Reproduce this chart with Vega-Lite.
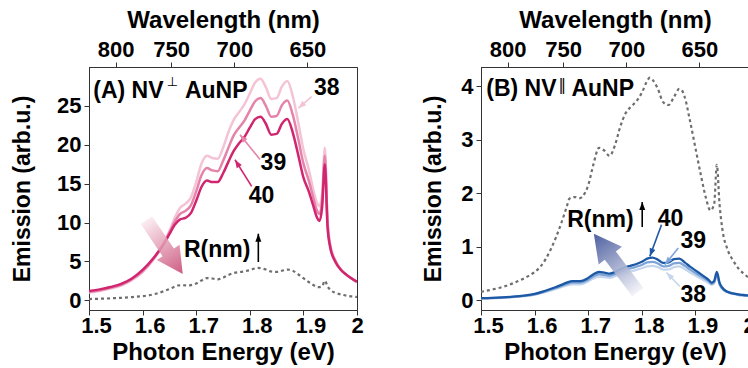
{
  "$schema": "https://vega.github.io/schema/vega-lite/v6.json",
  "background": "white",
  "padding": {"left": 11, "top": 7, "right": 0, "bottom": 0},
  "spacing": 58,
  "resolve": {"scale": {"color": "independent"}},
  "datasets": {
    "curves": [
      {"E":1.50,"p38":1.0,"p39":1.1,"p40":1.2,"b38":0.035,"b39":0.038,"b40":0.04},
      {"E":1.52,"p38":1.2,"p39":1.3,"p40":1.4,"b38":0.04,"b39":0.043,"b40":0.045},
      {"E":1.54,"p38":1.5,"p39":1.6,"p40":1.7,"b38":0.048,"b39":0.052,"b40":0.055},
      {"E":1.56,"p38":1.9,"p39":2.0,"p40":2.1,"b38":0.06,"b39":0.066,"b40":0.07},
      {"E":1.58,"p38":2.6,"p39":2.7,"p40":2.8,"b38":0.078,"b39":0.085,"b40":0.09},
      {"E":1.60,"p38":3.6,"p39":3.75,"p40":3.9,"b38":0.104,"b39":0.113,"b40":0.12},
      {"E":1.62,"p38":5.2,"p39":5.3,"p40":5.4,"b38":0.155,"b39":0.168,"b40":0.18},
      {"E":1.64,"p38":7.4,"p39":7.35,"p40":7.3,"b38":0.213,"b39":0.232,"b40":0.25},
      {"E":1.65,"p38":8.9,"p39":8.7,"p40":8.5,"b38":0.248,"b39":0.27,"b40":0.29},
      {"E":1.66,"p38":10.6,"p39":10.1,"p40":9.7,"b38":0.28,"b39":0.305,"b40":0.33},
      {"E":1.67,"p38":11.9,"p39":11.1,"p40":10.4,"b38":0.30,"b39":0.33,"b40":0.36},
      {"E":1.68,"p38":12.4,"p39":11.5,"p40":10.6,"b38":0.30,"b39":0.33,"b40":0.36},
      {"E":1.69,"p38":13.2,"p39":12.2,"p40":11.2,"b38":0.31,"b39":0.34,"b40":0.37},
      {"E":1.70,"p38":15.2,"p39":14.0,"p40":12.8,"b38":0.355,"b39":0.385,"b40":0.42},
      {"E":1.71,"p38":17.6,"p39":16.1,"p40":14.6,"b38":0.41,"b39":0.45,"b40":0.49},
      {"E":1.72,"p38":18.6,"p39":17.0,"p40":15.4,"b38":0.44,"b39":0.485,"b40":0.53},
      {"E":1.73,"p38":18.3,"p39":16.7,"p40":15.2,"b38":0.435,"b39":0.475,"b40":0.52},
      {"E":1.74,"p38":18.2,"p39":16.6,"p40":15.2,"b38":0.42,"b39":0.46,"b40":0.50},
      {"E":1.75,"p38":19.6,"p39":17.9,"p40":16.3,"b38":0.45,"b39":0.49,"b40":0.53},
      {"E":1.76,"p38":21.6,"p39":19.6,"p40":17.8,"b38":0.485,"b39":0.53,"b40":0.58},
      {"E":1.77,"p38":23.2,"p39":21.2,"p40":19.2,"b38":0.52,"b39":0.57,"b40":0.62},
      {"E":1.78,"p38":24.2,"p39":22.2,"p40":20.2,"b38":0.545,"b39":0.60,"b40":0.65},
      {"E":1.79,"p38":25.2,"p39":23.1,"p40":21.0,"b38":0.57,"b39":0.63,"b40":0.68},
      {"E":1.80,"p38":26.6,"p39":24.4,"p40":22.2,"b38":0.60,"b39":0.66,"b40":0.72},
      {"E":1.81,"p38":28.0,"p39":25.6,"p40":23.3,"b38":0.635,"b39":0.71,"b40":0.78},
      {"E":1.82,"p38":28.5,"p39":26.0,"p40":23.6,"b38":0.645,"b39":0.72,"b40":0.80},
      {"E":1.83,"p38":27.4,"p39":25.0,"p40":22.7,"b38":0.62,"b39":0.69,"b40":0.76},
      {"E":1.84,"p38":25.9,"p39":23.6,"p40":21.3,"b38":0.575,"b39":0.635,"b40":0.70},
      {"E":1.85,"p38":26.0,"p39":23.7,"p40":21.4,"b38":0.58,"b39":0.645,"b40":0.71},
      {"E":1.86,"p38":27.5,"p39":25.1,"p40":22.7,"b38":0.62,"b39":0.69,"b40":0.77},
      {"E":1.87,"p38":28.2,"p39":25.7,"p40":23.3,"b38":0.635,"b39":0.70,"b40":0.78},
      {"E":1.88,"p38":26.3,"p39":23.9,"p40":21.6,"b38":0.585,"b39":0.645,"b40":0.71},
      {"E":1.89,"p38":23.0,"p39":20.9,"p40":18.8,"b38":0.52,"b39":0.575,"b40":0.63},
      {"E":1.90,"p38":19.4,"p39":17.6,"p40":15.8,"b38":0.465,"b39":0.51,"b40":0.56},
      {"E":1.91,"p38":16.8,"p39":15.4,"p40":14.0,"b38":0.41,"b39":0.45,"b40":0.49},
      {"E":1.92,"p38":13.8,"p39":12.8,"p40":11.8,"b38":0.355,"b39":0.39,"b40":0.42},
      {"E":1.925,"p38":12.6,"p39":11.6,"p40":10.7,"b38":0.325,"b39":0.355,"b40":0.38},
      {"E":1.93,"p38":12.1,"p39":11.1,"p40":10.2,"b38":0.29,"b39":0.31,"b40":0.33},
      {"E":1.935,"p38":13.8,"p39":12.9,"p40":12.0,"b38":0.32,"b39":0.34,"b40":0.36},
      {"E":1.94,"p38":19.6,"p39":18.6,"p40":17.5,"b38":0.47,"b39":0.50,"b40":0.53},
      {"E":1.945,"p38":10.5,"p39":10.0,"p40":9.5,"b38":0.29,"b39":0.31,"b40":0.33},
      {"E":1.95,"p38":7.2,"p39":7.0,"p40":6.8,"b38":0.21,"b39":0.225,"b40":0.24},
      {"E":1.96,"p38":5.1,"p39":5.0,"p40":4.9,"b38":0.15,"b39":0.155,"b40":0.16},
      {"E":1.97,"p38":4.0,"p39":3.95,"p40":3.9,"b38":0.12,"b39":0.125,"b40":0.13},
      {"E":1.98,"p38":3.3,"p39":3.3,"p40":3.3,"b38":0.10,"b39":0.105,"b40":0.11},
      {"E":1.99,"p38":2.8,"p39":2.8,"p40":2.8,"b38":0.09,"b39":0.095,"b40":0.10},
      {"E":2.00,"p38":2.3,"p39":2.35,"p40":2.4,"b38":0.085,"b39":0.088,"b40":0.09}
    ],
    "ref": [
      {"E":1.50,"v":0.16},{"E":1.52,"v":0.20},{"E":1.54,"v":0.25},{"E":1.56,"v":0.32},
      {"E":1.58,"v":0.41},{"E":1.60,"v":0.53},{"E":1.61,"v":0.62},{"E":1.62,"v":0.76},
      {"E":1.63,"v":0.95},{"E":1.64,"v":1.18},{"E":1.65,"v":1.45},{"E":1.66,"v":1.75},
      {"E":1.665,"v":1.90},{"E":1.675,"v":1.93},{"E":1.685,"v":1.91},{"E":1.69,"v":1.95},
      {"E":1.70,"v":2.15},{"E":1.71,"v":2.55},{"E":1.72,"v":2.85},{"E":1.73,"v":2.80},
      {"E":1.74,"v":2.70},{"E":1.75,"v":2.90},{"E":1.76,"v":3.25},{"E":1.77,"v":3.50},
      {"E":1.78,"v":3.62},{"E":1.79,"v":3.72},{"E":1.80,"v":3.88},{"E":1.81,"v":4.10},
      {"E":1.815,"v":4.16},{"E":1.82,"v":4.12},{"E":1.83,"v":3.95},{"E":1.84,"v":3.70},
      {"E":1.85,"v":3.65},{"E":1.86,"v":3.80},{"E":1.87,"v":3.95},{"E":1.875,"v":3.92},
      {"E":1.88,"v":3.80},{"E":1.89,"v":3.35},{"E":1.90,"v":2.85},{"E":1.91,"v":2.35},
      {"E":1.92,"v":1.90},{"E":1.928,"v":1.68},{"E":1.935,"v":1.80},{"E":1.94,"v":2.53},
      {"E":1.945,"v":1.80},{"E":1.95,"v":1.35},{"E":1.96,"v":0.95},{"E":1.97,"v":0.75},
      {"E":1.98,"v":0.60},{"E":1.99,"v":0.50},{"E":2.00,"v":0.42}
    ],
    "bigA": [{"E":1.641,"v":6.85,"ang":146}],
    "bigB": [{"E":1.7515,"v":0.70,"ang":323}],
    "arrA": [
      {"E":1.9155,"v":26.2,"E2":1.8905,"v2":24.7,"ang":229,"R":"p38"},
      {"E":1.819,"v":18.1,"E2":1.7817,"v2":21.3,"ang":321,"R":"p39"},
      {"E":1.8035,"v":14.65,"E2":1.7724,"v2":18.07,"ang":328,"R":"p40"},
      {"E":1.8159,"v":4.92,"E2":1.8159,"v2":8.56,"ang":0,"R":"k"}
    ],
    "arrB": [
      {"E":1.8368,"v":1.413,"E2":1.815,"v2":0.822,"ang":200,"R":"b40"},
      {"E":1.868,"v":0.978,"E2":1.843,"v2":0.665,"ang":219,"R":"b39"},
      {"E":1.871,"v":0.26,"E2":1.846,"v2":0.52,"ang":316,"R":"b38"},
      {"E":1.8008,"v":1.37,"E2":1.8008,"v2":1.837,"ang":0,"R":"k"}
    ],
    "txtA": [
      {"E":1.9435,"v":27.3,"t":"38"},
      {"E":1.844,"v":17.65,"t":"39"},
      {"E":1.822,"v":13.4,"t":"40"},
      {"E":1.7392,"v":6.46,"t":"R(nm)"}
    ],
    "txtB": [
      {"E":1.8536,"v":1.525,"t":"40"},
      {"E":1.896,"v":1.10,"t":"39"},
      {"E":1.896,"v":0.105,"t":"38"},
      {"E":1.7229,"v":1.495,"t":"R(nm)"}
    ],
    "headA": [{"E":1.508,"v":26.0,"t":"(A) NV"},{"E":1.679,"v":26.0,"t":"AuNP"}],
    "supA": [{"E":1.645,"v":27.6,"t":"⊥"}],
    "headB": [{"E":1.5099,"v":3.813,"t":"(B) NV"},{"E":1.6687,"v":3.813,"t":"AuNP"}],
    "supB": [{"E":1.6444,"v":3.93,"t":"‖"}]
  },
  "hconcat": [
    {
      "width": 268,
      "height": 243,
      "resolve": {"axis": {"x": "independent", "y": "independent"}},
      "encoding": {
        "x": {"field": "E", "type": "quantitative", "scale": {"domain": [1.5, 2.0], "nice": false, "zero": false}, "axis": null},
        "y": {"field": "v", "type": "quantitative", "scale": {"domain": [-1.25, 30], "nice": false, "zero": false}, "axis": null}
      },
      "layer": [
        {
          "data": {"name": "ref"},
          "mark": {"type": "line", "color": "#6e6e6e", "strokeWidth": 2.2, "strokeDash": [3, 3], "interpolate": "monotone", "clip": true},
          "encoding": {
            "x": {"field": "E", "type": "quantitative", "scale": {"domain": [1.5, 2.0], "nice": false, "zero": false},
                  "axis": {"orient": "bottom", "title": "Photon Energy (eV)", "values": [1.5, 1.6, 1.7, 1.8, 1.9, 2.0], "format": ".1~f",
                           "labelOffset": {"condition": {"test": "datum.value < 1.99", "value": 7}, "value": 0}}},
            "y": {"field": "v", "type": "quantitative", "scale": {"domain": [-1.25, 30], "nice": false, "zero": false},
                  "axis": {"orient": "left", "title": "Emission (arb.u.)", "values": [0, 5, 10, 15, 20, 25], "titlePadding": 22}}
          }
        },
        {
          "data": {"name": "curves"},
          "transform": [{"fold": ["p38", "p39", "p40"], "as": ["R", "v"]}],
          "mark": {"type": "line", "strokeWidth": 2.5, "interpolate": "monotone", "clip": true},
          "encoding": {
            "x": {"field": "E", "type": "quantitative", "scale": {"domain": [1.5, 2.0], "nice": false, "zero": false},
                  "axis": {"orient": "top", "title": "Wavelength (nm)", "values": [1.5498, 1.65312, 1.7712, 1.90745],
                           "labelExpr": "format(1239.84 / datum.value, '.0f')"}},
            "color": {"field": "R", "type": "nominal", "scale": {"domain": ["p38", "p39", "p40", "k"], "range": ["#f4c3d5", "#e583aa", "#d1266f", "#000000"]}, "legend": null}
          }
        },
        {
          "data": {"name": "bigA"},
          "mark": {"type": "point", "shape": "M -0.21 1 L 0.21 1 L 0.21 -0.2 L 0.42 -0.2 L 0 -1 L -0.42 -0.2 L -0.21 -0.2 Z",
                   "size": 4225, "filled": true, "opacity": 0.85, "strokeWidth": 0,
                   "fill": {"gradient": "linear", "x1": 0, "y1": 1, "x2": 0, "y2": 0,
                            "stops": [{"offset": 0, "color": "#fbeaf0"}, {"offset": 1, "color": "#c5416d"}]}},
          "encoding": {"angle": {"field": "ang", "type": "quantitative", "scale": null}}
        },
        {
          "data": {"name": "arrA"},
          "mark": {"type": "rule", "strokeWidth": 1.6},
          "encoding": {
            "x2": {"field": "E2"}, "y2": {"field": "v2"},
            "color": {"field": "R", "type": "nominal", "legend": null}
          }
        },
        {
          "data": {"name": "arrA"},
          "mark": {"type": "point", "shape": "M 0 0 L -0.6 1.6 L 0.6 1.6 Z", "size": 100, "filled": true, "opacity": 1},
          "encoding": {
            "x": {"field": "E2", "type": "quantitative", "axis": null},
            "y": {"field": "v2", "type": "quantitative", "axis": null},
            "angle": {"field": "ang", "type": "quantitative", "scale": null},
            "color": {"field": "R", "type": "nominal", "legend": null}
          }
        },
        {
          "data": {"name": "txtA"},
          "mark": {"type": "text", "font": "Liberation Sans", "fontWeight": "bold", "fontSize": 23, "align": "center", "baseline": "middle", "color": "#000"},
          "encoding": {"text": {"field": "t"}}
        },
        {
          "data": {"name": "headA"},
          "mark": {"type": "text", "font": "Liberation Sans", "fontWeight": "bold", "fontSize": 23, "align": "left", "baseline": "alphabetic", "color": "#000"},
          "encoding": {"text": {"field": "t"}}
        },
        {
          "data": {"name": "supA"},
          "mark": {"type": "text", "font": "DejaVu Sans", "fontSize": 13, "align": "left", "baseline": "alphabetic", "color": "#000"},
          "encoding": {"text": {"field": "t"}}
        }
      ]
    },
    {
      "width": 268,
      "height": 243,
      "resolve": {"axis": {"x": "independent", "y": "independent"}},
      "encoding": {
        "x": {"field": "E", "type": "quantitative", "scale": {"domain": [1.5, 2.0], "nice": false, "zero": false}, "axis": null},
        "y": {"field": "v", "type": "quantitative", "scale": {"domain": [-0.18, 4.36], "nice": false, "zero": false}, "axis": null}
      },
      "layer": [
        {
          "data": {"name": "ref"},
          "mark": {"type": "line", "color": "#6e6e6e", "strokeWidth": 2.2, "strokeDash": [3, 3], "interpolate": "monotone", "clip": true},
          "encoding": {
            "x": {"field": "E", "type": "quantitative", "scale": {"domain": [1.5, 2.0], "nice": false, "zero": false},
                  "axis": {"orient": "bottom", "title": "Photon Energy (eV)", "values": [1.5, 1.6, 1.7, 1.8, 1.9, 2.0], "format": ".1~f",
                           "labelOffset": {"condition": {"test": "datum.value < 1.99", "value": 7}, "value": 0}}},
            "y": {"field": "v", "type": "quantitative", "scale": {"domain": [-0.18, 4.36], "nice": false, "zero": false},
                  "axis": {"orient": "left", "title": "Emission (arb.u.)", "values": [0, 1, 2, 3, 4], "titlePadding": 15}}
          }
        },
        {
          "data": {"name": "curves"},
          "transform": [{"fold": ["b38", "b39", "b40"], "as": ["R", "v"]}],
          "mark": {"type": "line", "strokeWidth": 2.3, "interpolate": "monotone", "clip": true},
          "encoding": {
            "x": {"field": "E", "type": "quantitative", "scale": {"domain": [1.5, 2.0], "nice": false, "zero": false},
                  "axis": {"orient": "top", "title": "Wavelength (nm)", "values": [1.5498, 1.65312, 1.7712, 1.90745],
                           "labelExpr": "format(1239.84 / datum.value, '.0f')"}},
            "color": {"field": "R", "type": "nominal", "scale": {"domain": ["b38", "b39", "b40", "k"], "range": ["#c5d6ec", "#7ea5d8", "#1d58a5", "#000000"]}, "legend": null}
          }
        },
        {
          "data": {"name": "bigB"},
          "mark": {"type": "point", "shape": "M -0.19 1 L 0.19 1 L 0.19 -0.25 L 0.4 -0.25 L 0 -1 L -0.4 -0.25 L -0.19 -0.25 Z",
                   "size": 5329, "filled": true, "opacity": 0.9, "strokeWidth": 0,
                   "fill": {"gradient": "linear", "x1": 0, "y1": 1, "x2": 0, "y2": 0,
                            "stops": [{"offset": 0, "color": "#f2f2f8"}, {"offset": 1, "color": "#3a4f95"}]}},
          "encoding": {"angle": {"field": "ang", "type": "quantitative", "scale": null}}
        },
        {
          "data": {"name": "arrB"},
          "mark": {"type": "rule", "strokeWidth": 1.6},
          "encoding": {
            "x2": {"field": "E2"}, "y2": {"field": "v2"},
            "color": {"field": "R", "type": "nominal", "legend": null}
          }
        },
        {
          "data": {"name": "arrB"},
          "mark": {"type": "point", "shape": "M 0 0 L -0.6 1.6 L 0.6 1.6 Z", "size": 100, "filled": true, "opacity": 1},
          "encoding": {
            "x": {"field": "E2", "type": "quantitative", "axis": null},
            "y": {"field": "v2", "type": "quantitative", "axis": null},
            "angle": {"field": "ang", "type": "quantitative", "scale": null},
            "color": {"field": "R", "type": "nominal", "legend": null}
          }
        },
        {
          "data": {"name": "txtB"},
          "mark": {"type": "text", "font": "Liberation Sans", "fontWeight": "bold", "fontSize": 23, "align": "center", "baseline": "middle", "color": "#000"},
          "encoding": {"text": {"field": "t"}}
        },
        {
          "data": {"name": "headB"},
          "mark": {"type": "text", "font": "Liberation Sans", "fontWeight": "bold", "fontSize": 23, "align": "left", "baseline": "alphabetic", "color": "#000"},
          "encoding": {"text": {"field": "t"}}
        },
        {
          "data": {"name": "supB"},
          "mark": {"type": "text", "font": "DejaVu Sans", "fontSize": 15, "align": "left", "baseline": "alphabetic", "color": "#000"},
          "encoding": {"text": {"field": "t"}}
        }
      ]
    }
  ],
  "config": {
    "font": "Liberation Sans",
    "view": {"stroke": "#333", "strokeWidth": 1},
    "axis": {
      "labelFont": "Liberation Sans", "labelFontWeight": "bold", "labelFontSize": 22, "labelColor": "#000",
      "titleFont": "Liberation Sans", "titleFontWeight": "bold", "titleFontSize": 23, "titleColor": "#000",
      "tickColor": "#333", "domainColor": "#333", "tickSize": 5, "grid": false, "labelPadding": 3,
      "domainWidth": 1, "tickWidth": 1, "labelFlush": false
    },
    "axisTop": {"titlePadding": 6, "labelPadding": 1, "titleFontSize": 24},
    "axisBottom": {"titlePadding": 4, "labelPadding": 0, "titleFontSize": 24}
  }
}
